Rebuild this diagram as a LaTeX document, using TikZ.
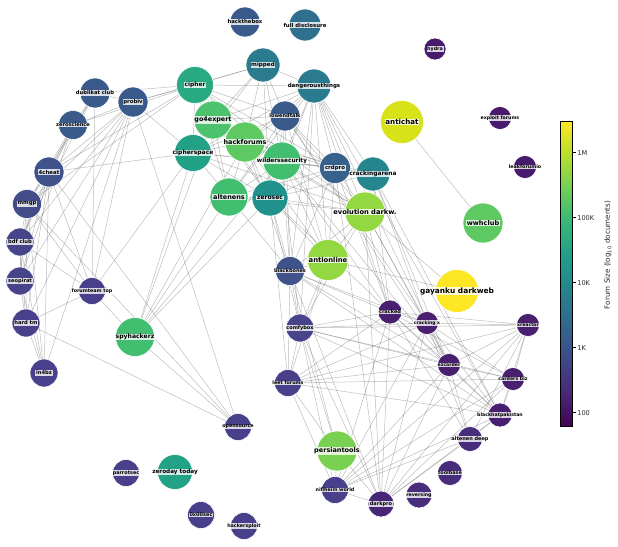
\documentclass[tikz,border=0pt]{standalone}
\usepackage{fontspec}
\setmainfont{DejaVu Sans}
\usepackage{xcolor}
\usetikzlibrary{backgrounds}

% viridis stops
\definecolor{vir0}{HTML}{440154}
\definecolor{vir1}{HTML}{482878}
\definecolor{vir2}{HTML}{3E4989}
\definecolor{vir3}{HTML}{31688E}
\definecolor{vir4}{HTML}{26828E}
\definecolor{vir5}{HTML}{1F9E89}
\definecolor{vir6}{HTML}{35B779}
\definecolor{vir7}{HTML}{6ECE58}
\definecolor{vir8}{HTML}{B5DE2B}
\definecolor{vir9}{HTML}{FDE725}

% forum colours
\definecolor{colGayanku}{HTML}{FDE725}
\definecolor{colAntichat}{HTML}{D8E219}
\definecolor{colEvo}{HTML}{93D741}
\definecolor{colPersian}{HTML}{7AD151}
\definecolor{colLime}{HTML}{5EC962}
\definecolor{colGreen}{HTML}{4CC26C}
\definecolor{colSpy}{HTML}{42BE71}
\definecolor{colCipher}{HTML}{2AAA83}
\definecolor{colTeal}{HTML}{22A187}
\definecolor{colZerosec}{HTML}{21918C}
\definecolor{colArena}{HTML}{25868E}
\definecolor{colDanger}{HTML}{2A7B8E}
\definecolor{colFull}{HTML}{30708E}
\definecolor{colCrd}{HTML}{37618D}
\definecolor{colBlue}{HTML}{3B5A8C}
\definecolor{colSlate}{HTML}{3F528A}
\definecolor{colMmgp}{HTML}{434B89}
\definecolor{colIndigo}{HTML}{47448A}
\definecolor{colViolet}{HTML}{48408A}
\definecolor{colPlum}{HTML}{48206F}
\definecolor{colDarkpro}{HTML}{482676}
\definecolor{colDeep}{HTML}{472D7C}
\definecolor{colHydra}{HTML}{481A6C}
\definecolor{tickgray}{HTML}{262626}

\pgfdeclareverticalshading{viridis}{100bp}{color(0bp)=(vir0); color(25bp)=(vir0);
  color(30.56bp)=(vir1); color(36.11bp)=(vir2); color(41.67bp)=(vir3);
  color(47.22bp)=(vir4); color(52.78bp)=(vir5); color(58.33bp)=(vir6);
  color(63.89bp)=(vir7); color(69.44bp)=(vir8); color(75bp)=(vir9); color(100bp)=(vir9)}

\begin{document}
\begin{tikzpicture}[
    x=1pt, y=-1pt,
    forum/.style={
        circle,
        inner sep=0pt,
        draw=white,
        line width=0.6pt,
        minimum size=#1
    },
    lbl/.style={
        fill=white,
        fill opacity=0.8,
        text opacity=1,
        inner xsep=0.7pt,
        inner ysep=0.5pt,
        font=\bfseries\fontsize{#1}{#1}\selectfont
    },
    link/.style={draw=black!65, draw opacity=0.4, line width=0.5pt},
    ticklbl/.style={right, inner sep=1.5pt, text=tickgray, font=\fontsize{6.6}{6.6}\selectfont}
]
\useasboundingbox (0,0) rectangle (618,546);

% forums
\node[forum=30pt, fill=colBlue, label={[lbl=5.3]center:hackthebox}] (htb) at (245,22) {};
\node[forum=32pt, fill=colFull, label={[lbl=5.4]center:full disclosure}] (fulldisc) at (305,25) {};
\node[forum=34pt, fill=colDanger, label={[lbl=5.6]center:mipped}] (mipped) at (263,65) {};
\node[forum=22pt, fill=colHydra, label={[lbl=4.8]center:hydra}] (hydra) at (435,49) {};
\node[forum=30pt, fill=colBlue, label={[lbl=5.2]center:dublikat club}] (dublikat) at (95,93) {};
\node[forum=30pt, fill=colBlue, label={[lbl=5.4]center:probiv}] (probiv) at (133,102) {};
\node[forum=29pt, fill=colBlue, label={[lbl=5.1]center:zeroscience}] (zerosci) at (73,125) {};
\node[forum=30pt, fill=colSlate, label={[lbl=5.4]center:4cheat}] (fourcheat) at (49,172) {};
\node[forum=29pt, fill=colMmgp, label={[lbl=5.4]center:mmgp}] (mmgp) at (27,204) {};
\node[forum=28pt, fill=colIndigo, label={[lbl=5.2]center:bdf club}] (bdf) at (20,242) {};
\node[forum=28pt, fill=colIndigo, label={[lbl=5.1]center:seopirat}] (seopirat) at (20,281) {};
\node[forum=28pt, fill=colViolet, label={[lbl=5.2]center:hard tm}] (hardtm) at (26,323) {};
\node[forum=28pt, fill=colViolet, label={[lbl=5.2]center:in4bz}] (inbz) at (44,373) {};
\node[forum=27pt, fill=colViolet, label={[lbl=4.8]center:forumteam top}] (forumteam) at (92,291) {};
\node[forum=39pt, fill=colSpy, label={[lbl=6.1]center:spyhackerz}] (spyhackerz) at (135,337) {};
\node[forum=37pt, fill=colCipher, label={[lbl=5.9]center:cipher}] (cipher) at (195,85) {};
\node[forum=34pt, fill=colDanger, label={[lbl=5.5]center:dangerousthings}] (dangerous) at (314,86) {};
\node[forum=38pt, fill=colGreen, label={[lbl=6.4]center:go4expert}] (goexpert) at (213,120) {};
\node[forum=30pt, fill=colBlue, label={[lbl=5.0]center:lowendtalk}] (lowend) at (285,116) {};
\node[forum=37pt, fill=colTeal, label={[lbl=6.0]center:cipherspace}] (cipherspace) at (193,153) {};
\node[forum=40pt, fill=colLime, label={[lbl=6.5]center:hackforums}] (hackforums) at (245,142) {};
\node[forum=38pt, fill=colSpy, label={[lbl=5.8]center:wilderssecurity}] (wilders) at (282,161) {};
\node[forum=31pt, fill=colCrd, label={[lbl=5.4]center:crdpro}] (crdpro) at (335,168) {};
\node[forum=34pt, fill=colArena, label={[lbl=5.9]center:crackingarena}] (crackarena) at (373,174) {};
\node[forum=38pt, fill=colSpy, label={[lbl=6.5]center:altenens}] (altenens) at (229,197) {};
\node[forum=36pt, fill=colZerosec, label={[lbl=6.0]center:zerosec}] (zerosec) at (270,198) {};
\node[forum=40pt, fill=colEvo, label={[lbl=6.7]center:evolution darkw.}] (evodark) at (365,212) {};
\node[forum=43pt, fill=colAntichat, label={[lbl=7.1]center:antichat}] (antichat) at (402,122) {};
\node[forum=23pt, fill=colHydra, label={[lbl=4.7]center:exploit forums}] (exploit) at (500,118) {};
\node[forum=23pt, fill=colHydra, label={[lbl=4.8]center:leakforumio}] (leakforum) at (525,167) {};
\node[forum=40pt, fill=colLime, label={[lbl=6.6]center:wwhclub}] (wwhclub) at (483,223) {};
\node[forum=41pt, fill=colEvo, label={[lbl=6.8]center:antionline}] (antionline) at (328,260) {};
\node[forum=29pt, fill=colSlate, label={[lbl=5.0]center:blackbones}] (blackbones) at (290,271) {};
\node[forum=43pt, fill=colGayanku, label={[lbl=7.4]center:gayanku darkweb}] (gayanku) at (457,291) {};
\node[forum=24pt, fill=colPlum, label={[lbl=5.0]center:cracked}] (cracked) at (390,312) {};
\node[forum=23pt, fill=colPlum, label={[lbl=4.5]center:cracking x}] (crackingx) at (427,323) {};
\node[forum=28pt, fill=colIndigo, label={[lbl=5.0]center:comfybox}] (comfybox) at (300,328) {};
\node[forum=23pt, fill=colPlum, label={[lbl=4.6]center:xreactor}] (xreactor) at (528,325) {};
\node[forum=23pt, fill=colPlum, label={[lbl=4.6]center:ezcarder}] (ezcarder) at (449,365) {};
\node[forum=27pt, fill=colViolet, label={[lbl=4.8]center:leet forums}] (leetforums) at (288,383) {};
\node[forum=23pt, fill=colPlum, label={[lbl=4.7]center:carders biz}] (carders) at (513,379) {};
\node[forum=24pt, fill=colPlum, label={[lbl=4.7]center:blackhatpakistan}] (bhp) at (500,415) {};
\node[forum=25pt, fill=colDeep, label={[lbl=5.0]center:altenen deep}] (altdeep) at (470,439) {};
\node[forum=27pt, fill=colViolet, label={[lbl=4.8]center:opensource}] (opensrc) at (238,427) {};
\node[forum=40pt, fill=colPersian, label={[lbl=6.5]center:persiantools}] (persiantools) at (337,451) {};
\node[forum=25pt, fill=colDeep, label={[lbl=4.9]center:toolbase}] (toolbase) at (450,473) {};
\node[forum=27pt, fill=colViolet, label={[lbl=4.9]center:parrotsec}] (parrotsec) at (126,473) {};
\node[forum=35pt, fill=colTeal, label={[lbl=5.7]center:zeroday today}] (zeroday) at (175,472) {};
\node[forum=27pt, fill=colViolet, label={[lbl=4.8]center:niflheim world}] (niflheim) at (335,490) {};
\node[forum=26pt, fill=colDeep, label={[lbl=4.7]center:reversing}] (reversing) at (419,495) {};
\node[forum=26pt, fill=colDarkpro, label={[lbl=5.0]center:darkpro}] (darkpro) at (381,504) {};
\node[forum=27pt, fill=colViolet, label={[lbl=5.0]center:0x00sec}] (zeroxsec) at (201,515) {};
\node[forum=27pt, fill=colViolet, label={[lbl=4.8]center:hackersploit}] (hsploit) at (244,526) {};

% links
\begin{scope}[on background layer]
\foreach \dst in {mipped, dangerous, cipherspace, goexpert, hackforums, lowend, wilders, zerosec, crdpro, altenens, evodark, dublikat, probiv, fourcheat, mmgp, zerosci}
    \draw[link] (cipher) -- (\dst);
\foreach \dst in {goexpert, cipherspace, dangerous, lowend, hackforums, wilders, probiv, zerosec}
    \draw[link] (mipped) -- (\dst);
\foreach \dst in {goexpert, hackforums, lowend, wilders, zerosec, crdpro, crackarena, evodark, antionline, blackbones, altenens, cipherspace, cracked, comfybox, bhp, ezcarder}
    \draw[link] (dangerous) -- (\dst);
\foreach \dst in {goexpert, hackforums, wilders, zerosec, crdpro, altenens, cipherspace, evodark, blackbones, antionline, ezcarder, crackingx}
    \draw[link] (lowend) -- (\dst);
\foreach \dst in {hackforums, cipherspace, wilders, altenens, zerosec, crdpro, spyhackerz}
    \draw[link] (goexpert) -- (\dst);
\foreach \dst in {cipherspace, wilders, altenens, zerosec, crdpro, evodark, blackbones, antionline, spyhackerz, crackarena}
    \draw[link] (hackforums) -- (\dst);
\foreach \dst in {wilders, altenens, zerosec, crdpro, evodark, forumteam, spyhackerz, fourcheat, probiv}
    \draw[link] (cipherspace) -- (\dst);
\foreach \dst in {altenens, zerosec, crdpro, crackarena, evodark, antionline, blackbones, comfybox, ezcarder, spyhackerz, cracked}
    \draw[link] (wilders) -- (\dst);
\foreach \dst in {zerosec, blackbones, crdpro, spyhackerz, evodark}
    \draw[link] (altenens) -- (\dst);
\foreach \dst in {crdpro, evodark, antionline, blackbones, comfybox, crackarena, spyhackerz, cracked, leetforums}
    \draw[link] (zerosec) -- (\dst);
\foreach \dst in {crackarena, evodark, antionline, blackbones, cracked, darkpro}
    \draw[link] (crdpro) -- (\dst);
\foreach \dst in {evodark, crackingx, ezcarder, cracked, bhp}
    \draw[link] (crackarena) -- (\dst);
\foreach \dst in {antionline, gayanku, cracked, crackingx, ezcarder, blackbones, darkpro, comfybox}
    \draw[link] (evodark) -- (\dst);
\foreach \dst in {blackbones, gayanku, comfybox, leetforums}
    \draw[link] (antionline) -- (\dst);
\draw[link] (antichat) -- (wwhclub);
\foreach \dst in {probiv, zerosci, fourcheat, mmgp, forumteam, bdf}
    \draw[link] (dublikat) -- (\dst);
\foreach \dst in {fourcheat, mmgp, bdf, seopirat, hardtm, forumteam, opensrc, zerosci, inbz}
    \draw[link] (probiv) -- (\dst);
\foreach \dst in {fourcheat, mmgp, bdf, seopirat}
    \draw[link] (zerosci) -- (\dst);
\foreach \dst in {mmgp, bdf, seopirat, hardtm, inbz, forumteam, opensrc}
    \draw[link] (fourcheat) -- (\dst);
\foreach \dst in {bdf, seopirat, hardtm, inbz, forumteam, opensrc}
    \draw[link] (mmgp) -- (\dst);
\foreach \dst in {seopirat, hardtm, inbz, forumteam}
    \draw[link] (bdf) -- (\dst);
\foreach \dst in {hardtm, inbz}
    \draw[link] (seopirat) -- (\dst);
\foreach \dst in {inbz, forumteam, opensrc}
    \draw[link] (hardtm) -- (\dst);
\draw[link] (forumteam) -- (spyhackerz);
\draw[link] (spyhackerz) -- (opensrc);
\foreach \dst in {comfybox, leetforums, cracked, crackingx, ezcarder, bhp, darkpro, persiantools}
    \draw[link] (blackbones) -- (\dst);
\foreach \dst in {leetforums, cracked, crackingx, xreactor, ezcarder, carders, bhp, persiantools, darkpro, niflheim}
    \draw[link] (comfybox) -- (\dst);
\foreach \dst in {cracked, ezcarder, xreactor, carders, bhp, persiantools, niflheim, crackingx}
    \draw[link] (leetforums) -- (\dst);
\foreach \dst in {crackingx, xreactor, ezcarder, carders, bhp, darkpro, niflheim, altdeep}
    \draw[link] (cracked) -- (\dst);
\foreach \dst in {xreactor, ezcarder, carders, bhp, darkpro, niflheim, altdeep}
    \draw[link] (crackingx) -- (\dst);
\foreach \dst in {ezcarder, carders, bhp, altdeep, darkpro, niflheim}
    \draw[link] (xreactor) -- (\dst);
\foreach \dst in {carders, bhp, altdeep, darkpro, niflheim}
    \draw[link] (ezcarder) -- (\dst);
\foreach \dst in {bhp, darkpro, niflheim}
    \draw[link] (carders) -- (\dst);
\foreach \dst in {altdeep, darkpro, niflheim}
    \draw[link] (bhp) -- (\dst);
\foreach \dst in {darkpro, niflheim}
    \draw[link] (altdeep) -- (\dst);
\foreach \dst in {niflheim, persiantools}
    \draw[link] (darkpro) -- (\dst);
\draw[link] (persiantools) -- (niflheim);
\end{scope}

% colour bar
\node[draw=black, line width=0.6pt, shade, shading=viridis, minimum width=11.6pt,
      minimum height=305pt, inner sep=0pt] (cbar) at (566.5,274.2) {};
\foreach \lab/\yy in {1M/152.7, 100K/217.7, 10K/282.7, 1K/347.7, 100/412.7}
    \draw[line width=0.6pt] (572.3,\yy) -- (575.5,\yy) node[ticklbl] (tick\lab) {\lab};
\node[rotate=90, text=tickgray, font=\fontsize{7.2}{7.2}\selectfont] (cbarlabel) at (608,255)
    {Forum Size (log\textsubscript{10} documents)};

\end{tikzpicture}
\end{document}
